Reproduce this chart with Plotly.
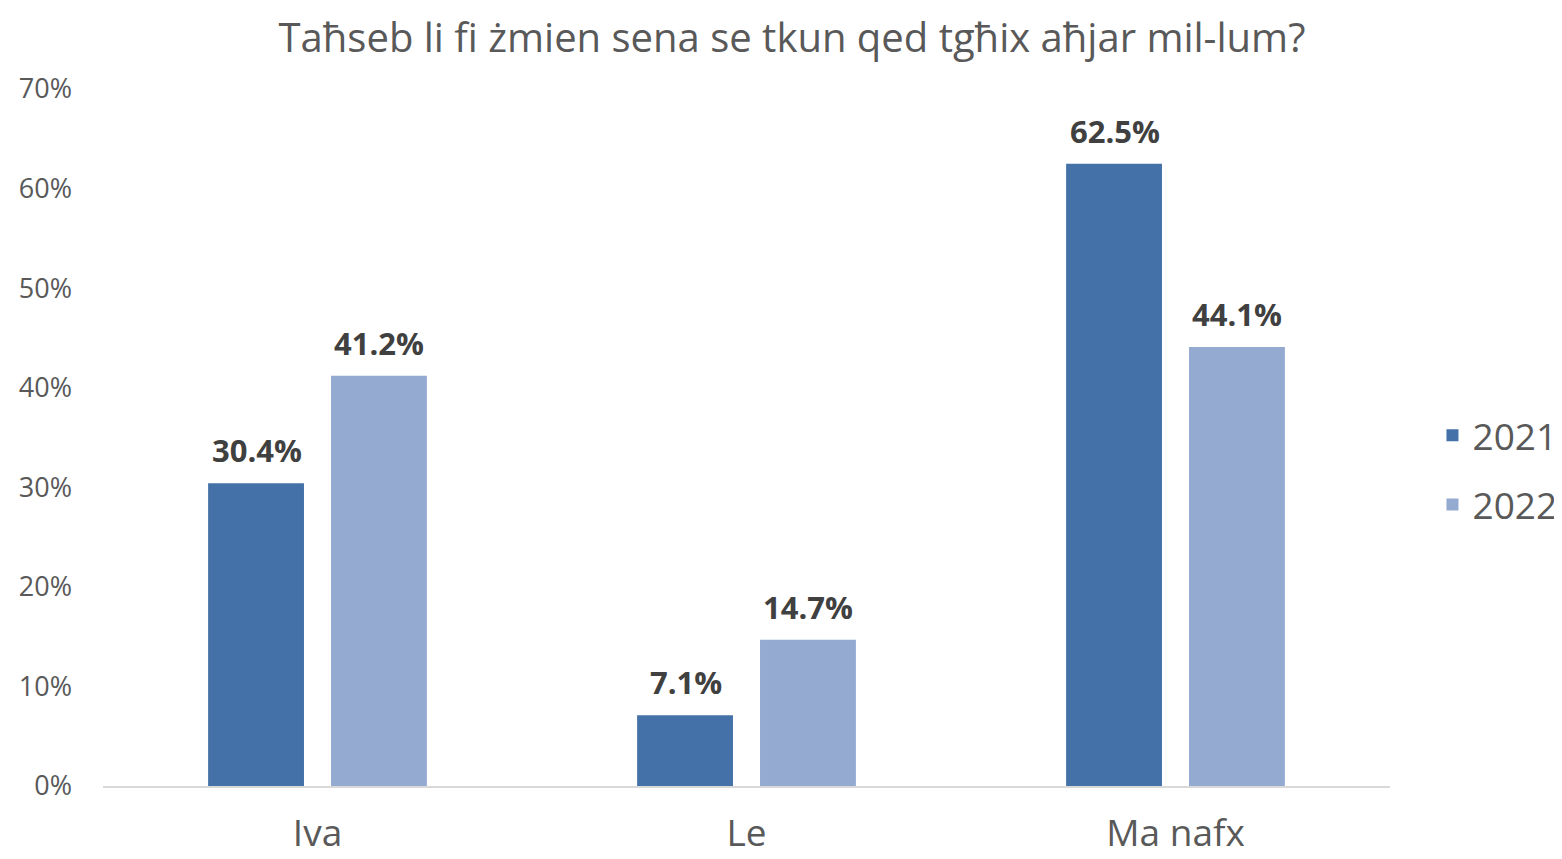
import plotly.graph_objects as go

categories = ["Iva", "Le", "Ma nafx"]
values_2021 = [30.4, 7.1, 62.5]
values_2022 = [41.2, 14.7, 44.1]
tick_vals = [0, 10, 20, 30, 40, 50, 60, 70]
tick_text = ["0%", "10%", "20%", "30%", "40%", "50%", "60%", "70%"]

FONT = "Open Sans"
GRAY = "#595959"
LABEL = "#404040"

fig = go.Figure()
fig.add_trace(go.Bar(
    name="2021", x=categories, y=values_2021, legendgroup="a",
    marker=dict(color="#4472A8", line=dict(width=0)),
))
fig.add_trace(go.Bar(
    name="2022", x=categories, y=values_2022, legendgroup="b",
    marker=dict(color="#95AAD1", line=dict(width=0)),
))

annotations = []
for series, shift in ((values_2021, -61), (values_2022, 61)):
    for cat, val in zip(categories, series):
        annotations.append(dict(
            x=cat, y=val, xref="x", yref="y", text=f"<b>{val:.1f}%</b>",
            showarrow=False, xshift=shift, yshift=10, yanchor="bottom",
            font=dict(size=31, color=LABEL, family=FONT),
        ))

fig.update_layout(
    width=1554, height=851,
    paper_bgcolor="white", plot_bgcolor="white",
    font=dict(family=FONT, color=GRAY),
    title=dict(text="Taħseb li fi żmien sena se tkun qed tgħix aħjar mil-lum?",
               x=0.5045, xanchor="center", y=0.965, yanchor="middle",
               font=dict(size=40, color=GRAY, family=FONT)),
    margin=dict(l=95, r=172, t=81, b=73, autoexpand=False),
    barmode="group", bargap=0.427, bargroupgap=0.22,
    legend=dict(x=1.033, xanchor="left", y=0.453, yanchor="middle",
                font=dict(size=37, color=GRAY, family=FONT),
                tracegroupgap=18, itemwidth=30),
    showlegend=True,
    annotations=annotations,
)
fig.update_xaxes(showline=True, linecolor="#D9D9D9", linewidth=2,
                 tickfont=dict(size=37, color=GRAY), ticks="", ticklabelstandoff=14)
fig.update_yaxes(range=[0, 70], tickvals=tick_vals, ticktext=tick_text,
                 showgrid=False, zeroline=False, showline=False,
                 tickfont=dict(size=27, color=GRAY), ticklabelstandoff=30)

fig.write_html("out.html")
